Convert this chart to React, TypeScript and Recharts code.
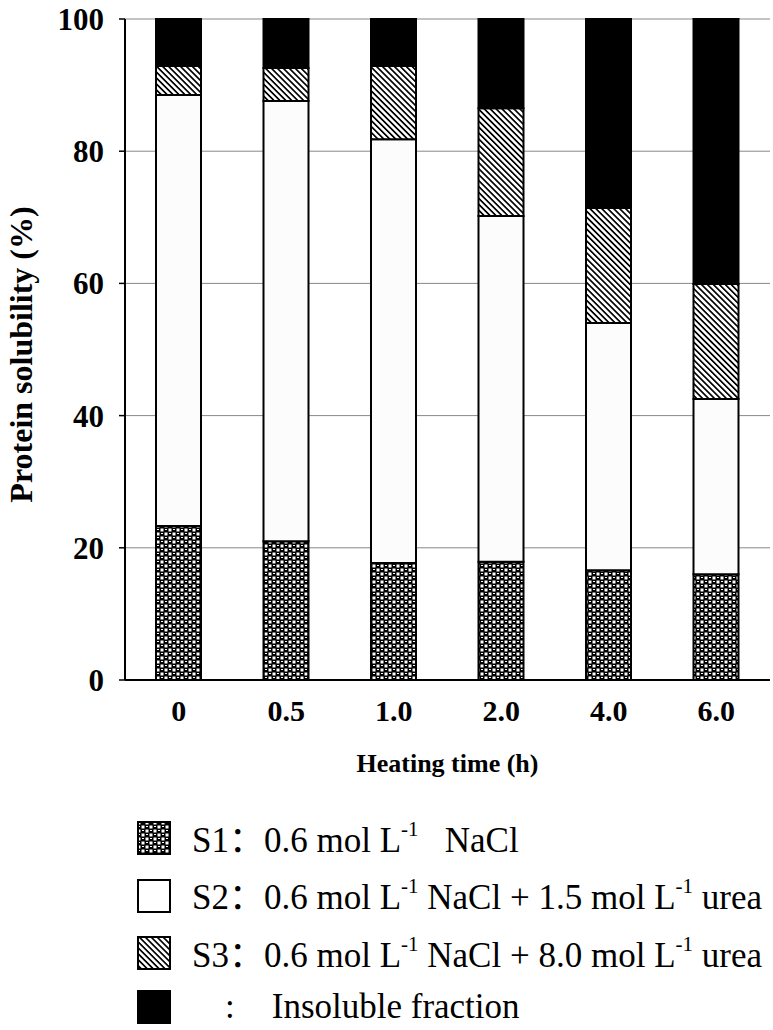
import React from "react";
import {
  BarChart,
  Bar,
  XAxis,
  YAxis,
  CartesianGrid,
} from "recharts";

const times = ["0", "0.5", "1.0", "2.0", "4.0", "6.0"];
const s1 = [23.3, 21.0, 17.7, 17.9, 16.6, 16.0];
const s2 = [65.2, 66.6, 64.1, 52.3, 37.4, 26.5];
const s3 = [4.4, 5.0, 11.1, 16.3, 17.4, 17.4];
const insoluble = [7.1, 7.4, 7.1, 13.5, 28.6, 40.1];
const yTicks = [0, 20, 40, 60, 80, 100];

const data = times.map((t, i) => ({
  time: t,
  s1: s1[i],
  s2: s2[i],
  s3: s3[i],
  ins: insoluble[i],
}));

const serif = '"Liberation Serif", "Times New Roman", Times, serif';
const cjk = '"Noto Sans CJK SC", sans-serif';

function Patterns({ prefix }: { prefix: string }) {
  return (
    <defs>
      <pattern id={`${prefix}-dots`} width="8" height="8" patternUnits="userSpaceOnUse">
        <rect width="8" height="8" fill="#000" />
        <rect x="0.5" y="0.5" width="3" height="3" fill="#fff" />
        <rect x="4.5" y="4.5" width="3" height="3" fill="#fff" />
        <rect x="5" y="1" width="2" height="1" fill="#fff" />
        <rect x="1" y="5" width="2" height="1" fill="#fff" />
      </pattern>
      <pattern
        id={`${prefix}-hatch`}
        width="4.2"
        height="4.2"
        patternUnits="userSpaceOnUse"
        patternTransform="rotate(-45)"
      >
        <rect width="4.2" height="4.2" fill="#fff" />
        <rect x="0" y="0" width="1.7" height="4.2" fill="#000" />
      </pattern>
    </defs>
  );
}

function YLabel(props: any) {
  const vb = props.viewBox || {};
  const cy = (vb.y ?? 19) + (vb.height ?? 661) / 2 + 5;
  return (
    <text
      x={21}
      y={cy}
      transform={`rotate(-90, 21, ${cy})`}
      textAnchor="middle"
      dominantBaseline="central"
      fontFamily={serif}
      fontWeight="bold"
      fontSize={32}
      fill="#000"
    >
      Protein solubility (%)
    </text>
  );
}

function Swatch({ kind }: { kind: string }) {
  const id = `lg-${kind}`;
  let fill = "#fff";
  if (kind === "s1") fill = `url(#${id}-dots)`;
  if (kind === "s3") fill = `url(#${id}-hatch)`;
  if (kind === "ins") fill = "#000";
  return (
    <svg width={34} height={34} style={{ display: "block", flex: "none" }}>
      <Patterns prefix={id} />
      <rect x={1} y={1} width={32} height={32} fill={fill} stroke="#000" strokeWidth={2} />
    </svg>
  );
}

const rowStyle: React.CSSProperties = {
  display: "flex",
  alignItems: "center",
  height: 36,
  marginBottom: 21.5,
};

const supStyle: React.CSSProperties = {
  fontSize: "0.6em",
  verticalAlign: "0.75em",
  lineHeight: 0,
};

const Colon = () => <span style={{ fontFamily: cjk }}>：</span>;

export default function App() {
  return (
    <div
      style={{
        position: "absolute",
        left: 0,
        top: 0,
        width: 773,
        height: 1030,
        background: "#fff",
        fontFamily: serif,
      }}
    >
      <BarChart
        width={773}
        height={790}
        data={data}
        margin={{ top: 19, right: 3, left: 0, bottom: 0 }}
        barSize={45}
      >
        <Patterns prefix="ch" />
        <CartesianGrid vertical={false} stroke="#888" strokeWidth={1} />
        <XAxis
          dataKey="time"
          height={110}
          tickLine={false}
          axisLine={{ stroke: "#000", strokeWidth: 2 }}
          tickMargin={14}
          tick={{ fill: "#000", fontSize: 30, fontWeight: "bold", fontFamily: serif }}
          label={{
            value: "Heating time (h)",
            position: "insideBottom",
            offset: 18,
            fill: "#000",
            fontSize: 26,
            fontWeight: "bold",
            fontFamily: serif,
          }}
        />
        <YAxis
          width={125}
          domain={[0, 100]}
          ticks={yTicks}
          interval={0}
          tickSize={6}
          tickMargin={15}
          tickLine={{ stroke: "#000", strokeWidth: 1.5 }}
          axisLine={{ stroke: "#000", strokeWidth: 2 }}
          tick={{ fill: "#000", fontSize: 31, fontWeight: "bold", fontFamily: serif }}
          label={<YLabel />}
        />
        <YAxis
          yAxisId="right"
          orientation="right"
          width={0}
          tick={false}
          tickLine={false}
          axisLine={{ stroke: "#888", strokeWidth: 1.5 }}
        />
        <Bar dataKey="s1" stackId="a" fill="url(#ch-dots)" stroke="#000" strokeWidth={2} isAnimationActive={false} />
        <Bar dataKey="s2" stackId="a" fill="#fcfcfc" stroke="#000" strokeWidth={2} isAnimationActive={false} />
        <Bar dataKey="s3" stackId="a" fill="url(#ch-hatch)" stroke="#000" strokeWidth={2} isAnimationActive={false} />
        <Bar dataKey="ins" stackId="a" fill="#000" stroke="#000" strokeWidth={2} isAnimationActive={false} />
      </BarChart>

      <div
        style={{
          position: "absolute",
          left: 137,
          top: 820,
          fontSize: 35,
          color: "#000",
          whiteSpace: "nowrap",
          lineHeight: 1,
        }}
      >
        <div style={rowStyle}>
          <Swatch kind="s1" />
          <span style={{ marginLeft: 21 }}>
            S1<Colon />0.6 mol L<sup style={supStyle}>-1</sup>&nbsp;&nbsp; NaCl
          </span>
        </div>
        <div style={rowStyle}>
          <Swatch kind="s2" />
          <span style={{ marginLeft: 21 }}>
            S2<Colon />0.6 mol L<sup style={supStyle}>-1</sup> NaCl + 1.5 mol L
            <sup style={supStyle}>-1</sup> urea
          </span>
        </div>
        <div style={{ ...rowStyle, marginBottom: 17.5 }}>
          <Swatch kind="s3" />
          <span style={{ marginLeft: 21 }}>
            S3<Colon />0.6 mol L<sup style={supStyle}>-1</sup> NaCl + 8.0 mol L
            <sup style={supStyle}>-1</sup> urea
          </span>
        </div>
        <div style={{ ...rowStyle, marginBottom: 0 }}>
          <Swatch kind="ins" />
          <span style={{ marginLeft: 54 }}>
            :<span style={{ marginLeft: 37 }}>Insoluble fraction</span>
          </span>
        </div>
      </div>
    </div>
  );
}
